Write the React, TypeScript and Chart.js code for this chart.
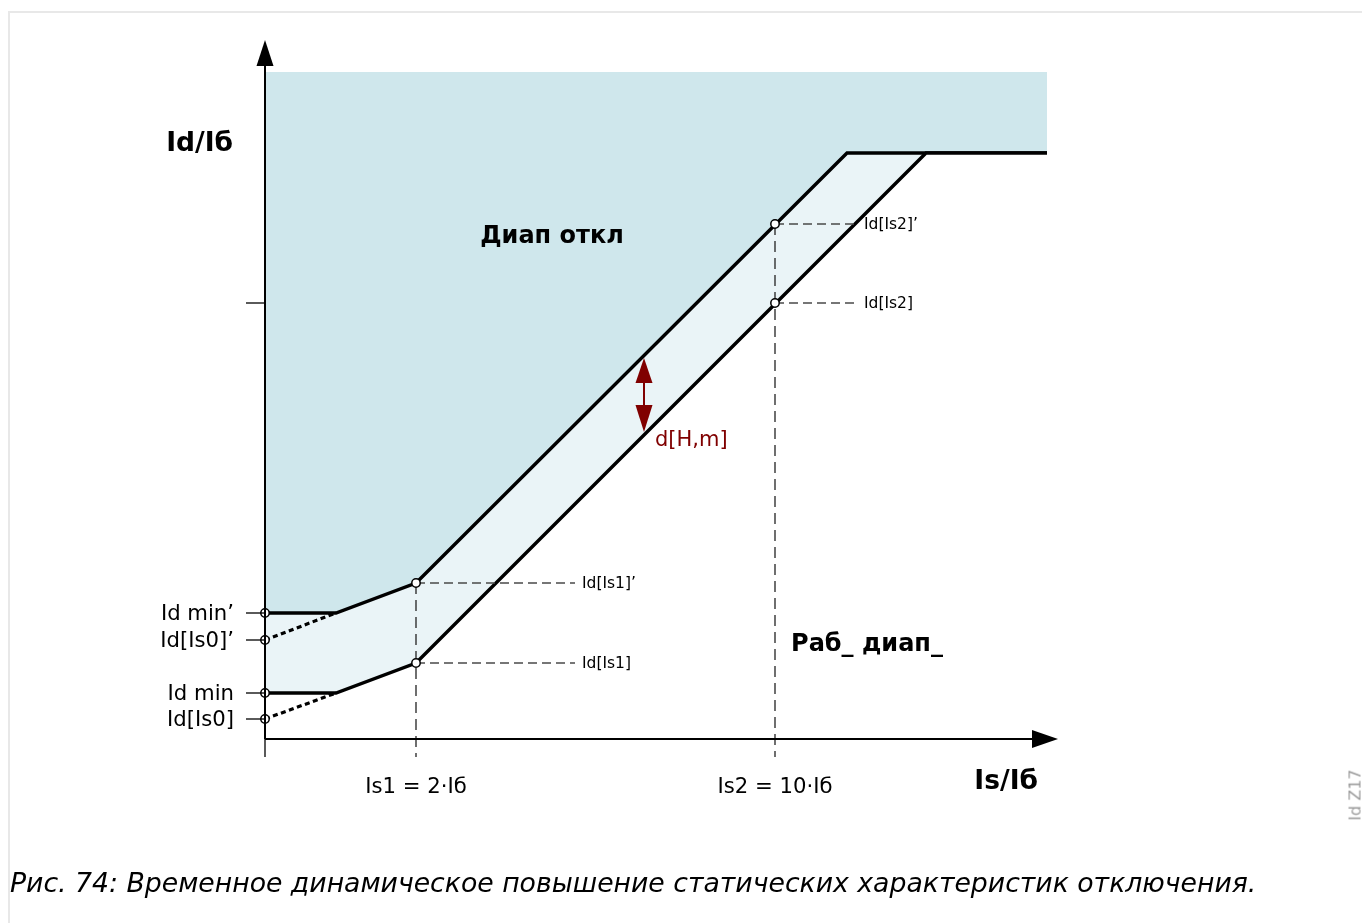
import React, { useEffect, useRef } from "react";
import { Chart, registerables } from "chart.js";

Chart.register(...registerables);

// ---- Diagram data (schematic units: origin of the axes = 0,0) ----
const tripTopY = 667;
const tripRightX = 782;
const upperX = [0, 71, 151, 582, 782];
const upperY = [126, 126, 156, 586, 586];
const lowerX = [0, 71, 151, 661, 782];
const lowerY = [46, 46, 76, 586, 586];
const rampUpperStart = [0, 99];
const rampLowerStart = [0, 20];
const rampKneeX = 71;
const markerX = [0, 0, 0, 0, 151, 151, 510, 510];
const markerY = [126, 99, 46, 20, 156, 76, 515, 436];
const guideY = [156, 76, 515, 436];
const guideStartX = [151, 151, 510, 510];
const guideEndX = [310, 310, 592, 592];
const guideLabels = ["Id[Is1]’", "Id[Is1]", "Id[Is2]’", "Id[Is2]"];
const yTickValues = [126, 99, 46, 20, 436];
const yTickLabels = ["Id min’", "Id[Is0]’", "Id min", "Id[Is0]", ""];
const xTickValues = [0, 151, 510];
const xTickLabels = ["", "Is1 = 2·Iб", "Is2 = 10·Iб"];
const deltaX = 379;
const deltaFrom = 307;
const deltaTo = 381;
const xMax = 793;
const yMax = 699;

const FONT = '"DejaVu Sans", "Noto Sans", sans-serif';
const TEAL = "#cfe7ec";
const LIGHT = "#eaf4f7";
const DARKRED = "#800000";

const pts = (xs: number[], ys: number[]) => xs.map((x, i) => ({ x, y: ys[i] }));

const overlay = {
  id: "diagramOverlay",
  afterDatasetsDraw(chart: any) {
    const ctx = chart.ctx as CanvasRenderingContext2D;
    const xs = chart.scales.x;
    const ys = chart.scales.y;
    const px = (v: number) => xs.getPixelForValue(v);
    const py = (v: number) => ys.getPixelForValue(v);
    const x0 = px(0);
    const y0 = py(0);
    ctx.save();
    ctx.strokeStyle = "#000";
    ctx.fillStyle = "#000";
    ctx.lineCap = "butt";

    // y axis
    ctx.lineWidth = 2;
    ctx.beginPath();
    ctx.moveTo(x0, y0);
    ctx.lineTo(x0, py(yMax) + 24);
    ctx.stroke();
    ctx.beginPath();
    ctx.moveTo(x0, py(yMax));
    ctx.lineTo(x0 - 8.5, py(yMax) + 26);
    ctx.lineTo(x0 + 8.5, py(yMax) + 26);
    ctx.closePath();
    ctx.fill();

    // x axis
    ctx.beginPath();
    ctx.moveTo(x0, y0);
    ctx.lineTo(px(xMax) - 24, y0);
    ctx.stroke();
    ctx.beginPath();
    ctx.moveTo(px(xMax), y0);
    ctx.lineTo(px(xMax) - 26, y0 - 9);
    ctx.lineTo(px(xMax) - 26, y0 + 9);
    ctx.closePath();
    ctx.fill();

    // ticks
    ctx.lineWidth = 1.3;
    yTickValues.forEach((v) => {
      ctx.beginPath();
      ctx.moveTo(x0 - 19, py(v));
      ctx.lineTo(x0, py(v));
      ctx.stroke();
    });
    ctx.beginPath();
    ctx.moveTo(x0, y0);
    ctx.lineTo(x0, y0 + 18);
    ctx.stroke();

    // y tick labels
    ctx.font = `21.2px ${FONT}`;
    ctx.textAlign = "right";
    ctx.textBaseline = "middle";
    yTickValues.forEach((v, i) => {
      if (yTickLabels[i]) ctx.fillText(yTickLabels[i], x0 - 31, py(v) + 1);
    });

    // x tick labels
    ctx.textAlign = "center";
    xTickValues.forEach((v, i) => {
      if (xTickLabels[i]) ctx.fillText(xTickLabels[i], px(v), y0 + 48);
    });

    // guide labels
    ctx.font = `15.5px ${FONT}`;
    ctx.textAlign = "left";
    guideLabels.forEach((t, i) => {
      ctx.fillText(t, px(guideEndX[i]) + 7, py(guideY[i]) + 0.5);
    });

    // axis titles
    ctx.font = `bold 26.5px ${FONT}`;
    ctx.textAlign = "right";
    ctx.fillText("Id/Iб", x0 - 32, py(595));
    ctx.fillText("Is/Iб", px(773), y0 + 43);

    // region labels
    ctx.font = `bold 24px ${FONT}`;
    ctx.textAlign = "center";
    ctx.fillText("Диап откл", px(287), py(502));
    ctx.fillText("Раб_ диап_", px(602), py(94));

    // d[H,m] arrow
    ctx.strokeStyle = DARKRED;
    ctx.fillStyle = DARKRED;
    ctx.lineWidth = 2;
    const ax = px(deltaX);
    const aTop = py(deltaTo);
    const aBot = py(deltaFrom);
    ctx.beginPath();
    ctx.moveTo(ax, aTop + 20);
    ctx.lineTo(ax, aBot - 20);
    ctx.stroke();
    ctx.beginPath();
    ctx.moveTo(ax, aTop);
    ctx.lineTo(ax - 8.5, aTop + 25);
    ctx.lineTo(ax + 8.5, aTop + 25);
    ctx.closePath();
    ctx.fill();
    ctx.beginPath();
    ctx.moveTo(ax, aBot);
    ctx.lineTo(ax - 8.5, aBot - 27);
    ctx.lineTo(ax + 8.5, aBot - 27);
    ctx.closePath();
    ctx.fill();
    ctx.font = `21px ${FONT}`;
    ctx.textAlign = "left";
    ctx.fillText("d[H,m]", px(390), py(298));

    ctx.restore();
  },
};

export default function App() {
  const ref = useRef<HTMLCanvasElement | null>(null);
  useEffect(() => {
    if (!ref.current) return;
    const guideSets = guideY.map((y, i) => ({
      data: [
        { x: guideStartX[i], y },
        { x: guideEndX[i], y },
      ],
      showLine: true,
      borderColor: "#4a4a4a",
      borderWidth: 1.3,
      borderDash: [9, 5],
      pointRadius: 0,
      fill: false,
      order: 2,
    }));
    const verticalGuides = [0, 2].map((i) => ({
      data: [
        { x: guideStartX[i], y: guideY[i] },
        { x: guideStartX[i], y: -18 },
      ],
      showLine: true,
      borderColor: "#222",
      borderWidth: 1.3,
      borderDash: [11, 6],
      pointRadius: 0,
      fill: false,
      order: 2,
    }));
    const chart = new Chart(ref.current, {
      type: "scatter",
      data: {
        datasets: [
          {
            data: pts(markerX, markerY),
            showLine: false,
            pointRadius: 4.2,
            pointBackgroundColor: "#fff",
            pointBorderColor: "#000",
            pointBorderWidth: 1.5,
            order: 0,
          },
          {
            data: [
              { x: rampUpperStart[0], y: rampUpperStart[1] },
              { x: rampKneeX, y: upperY[1] },
            ],
            showLine: true,
            borderColor: "#000",
            borderWidth: 3.2,
            borderDash: [5, 3.5],
            pointRadius: 0,
            order: 1,
          },
          {
            data: [
              { x: rampLowerStart[0], y: rampLowerStart[1] },
              { x: rampKneeX, y: lowerY[1] },
            ],
            showLine: true,
            borderColor: "#000",
            borderWidth: 3.2,
            borderDash: [5, 3.5],
            pointRadius: 0,
            order: 1,
          },
          ...guideSets,
          ...verticalGuides,
          {
            data: pts(lowerX, lowerY),
            showLine: true,
            borderColor: "#000",
            borderWidth: 3.4,
            backgroundColor: "#ffffff",
            fill: "origin",
            pointRadius: 0,
            order: 3,
          },
          {
            data: pts(upperX, upperY),
            showLine: true,
            borderColor: "#000",
            borderWidth: 3.4,
            backgroundColor: LIGHT,
            fill: "origin",
            pointRadius: 0,
            order: 4,
          },
          {
            data: [
              { x: 0, y: tripTopY },
              { x: tripRightX, y: tripTopY },
            ],
            showLine: true,
            borderWidth: 0,
            borderColor: TEAL,
            backgroundColor: TEAL,
            fill: "origin",
            pointRadius: 0,
            order: 5,
          },
        ] as any,
      },
      options: {
        animation: false,
        responsive: false,
        events: [],
        layout: { padding: { left: 235, right: 304, top: 40, bottom: 154 } },
        scales: {
          x: { type: "linear", min: -30, max: xMax, display: false },
          y: { type: "linear", min: -30, max: yMax, display: false },
        },
        plugins: {
          legend: { display: false },
          tooltip: { enabled: false },
        },
      },
      plugins: [overlay],
    });
    return () => chart.destroy();
  }, []);

  return (
    <div
      style={{
        position: "fixed",
        left: 0,
        top: 0,
        width: 1362,
        height: 923,
        background: "#fff",
        overflow: "hidden",
      }}
    >
      <div
        style={{
          position: "absolute",
          left: 8,
          top: 11,
          right: 0,
          bottom: 0,
          borderTop: "2px solid #e8e8e8",
          borderLeft: "2px solid #e8e8e8",
        }}
      />
      <canvas
        ref={ref}
        width={1362}
        height={923}
        style={{ position: "absolute", left: 0, top: 0, width: 1362, height: 923 }}
      />
      <div
        style={{
          position: "absolute",
          left: 10,
          top: 867,
          lineHeight: "32px",
          fontFamily: FONT,
          fontStyle: "italic",
          fontSize: 26.7,
          color: "#000",
          whiteSpace: "nowrap",
        }}
      >
        Рис. 74: Временное динамическое повышение статических характеристик отключения.
      </div>
      <div
        style={{
          position: "absolute",
          left: 1355,
          top: 795,
          transform: "translate(-50%, -50%) rotate(-90deg)",
          fontFamily: FONT,
          fontSize: 16,
          color: "#9a9a9a",
          whiteSpace: "nowrap",
        }}
      >
        Id Z17
      </div>
    </div>
  );
}
